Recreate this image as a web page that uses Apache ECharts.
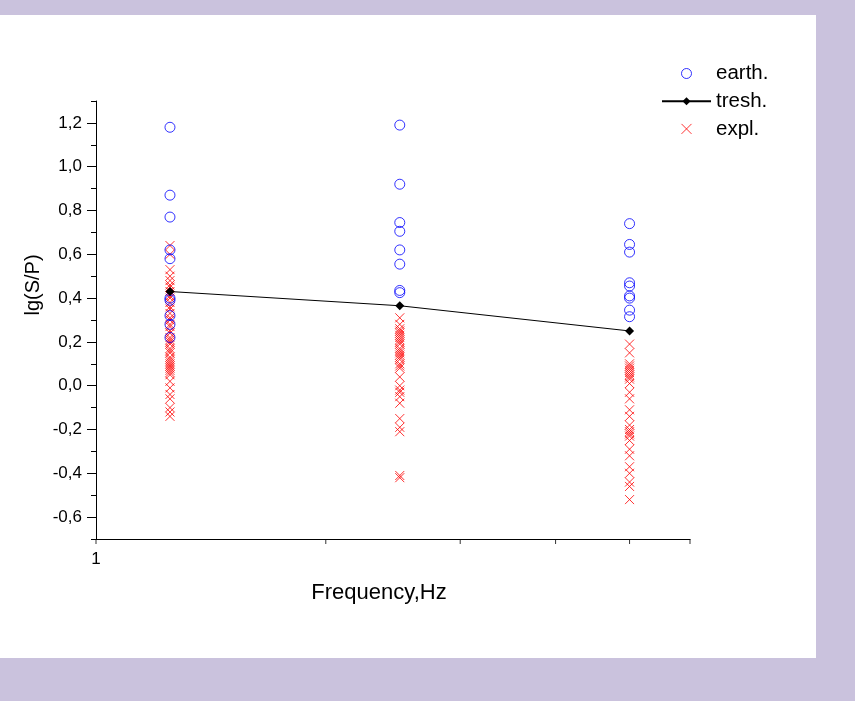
<!DOCTYPE html>
<html>
<head>
<meta charset="utf-8">
<title>lg(S/P) vs Frequency</title>
<script src="https://cdn.jsdelivr.net/npm/echarts@6/dist/echarts.min.js"></script>
<style>
  html, body { margin: 0; padding: 0; background: #cac2dd; }
  #chart { width: 855px; height: 701px; }
</style>
</head>
<body>
<div id="chart"></div>
<script>
// Frequencies (Hz) of the three measurement bands
const frequencies = [1.25, 2.5, 5];

// lg(S/P) values for earthquakes, per band
const earth125 = [1.18, 0.87, 0.77, 0.62, 0.58, 0.40, 0.39, 0.32, 0.28, 0.22];
const earth25  = [1.19, 0.92, 0.745, 0.705, 0.62, 0.555, 0.435, 0.425];
const earth5   = [0.74, 0.645, 0.61, 0.47, 0.455, 0.41, 0.40, 0.345, 0.315];

// lg(S/P) values for explosions, per band
const expl125 = [0.64, 0.60, 0.53, 0.50, 0.48, 0.46, 0.45, 0.43, 0.41, 0.40, 0.38, 0.36,
  0.35, 0.33, 0.31, 0.30, 0.28, 0.27, 0.25, 0.24, 0.22, 0.21, 0.20, 0.19, 0.17, 0.16,
  0.15, 0.13, 0.12, 0.11, 0.10, 0.09, 0.08, 0.07, 0.06, 0.05, 0.02, -0.01, -0.04,
  -0.06, -0.10, -0.12, -0.14];
const expl25 = [0.31, 0.28, 0.26, 0.25, 0.24, 0.23, 0.22, 0.21, 0.20, 0.19, 0.17, 0.16,
  0.15, 0.14, 0.13, 0.12, 0.10, 0.09, 0.08, 0.04, 0.00, -0.02, -0.03, -0.05, -0.08,
  -0.15, -0.19, -0.21, -0.41, -0.42];
const expl5 = [0.19, 0.15, 0.10, 0.09, 0.08, 0.07, 0.06, 0.05, 0.04, 0.03, 0.01, -0.03,
  -0.06, -0.11, -0.14, -0.18, -0.20, -0.21, -0.22, -0.23, -0.25, -0.29, -0.32, -0.37,
  -0.40, -0.44, -0.46, -0.52];

// Discrimination threshold per band
const threshold = [0.43, 0.365, 0.25];

// Frequency-axis tick positions (log scale)
const freqTicks = [1, 2, 3, 4, 5, 6];

const FONT = "'Liberation Sans', Arial, sans-serif";
const yMin = -0.7, yMax = 1.3;

function pairs(freq, values) {
  return values.map(v => [freq, v]);
}
const earthData = [].concat(
  pairs(frequencies[0], earth125),
  pairs(frequencies[1], earth25),
  pairs(frequencies[2], earth5)
);
const explData = [].concat(
  pairs(frequencies[0], expl125),
  pairs(frequencies[1], expl25),
  pairs(frequencies[2], expl5)
);
const threshData = frequencies.map((f, i) => [f, threshold[i]]);
const tickData = freqTicks.map(f => [f, yMin]);

// Grid geometry: main plot area, plus a second grid aligned so that
// its range -0.6..1.2 sits exactly over the same values of the first one
const gLeft = 96, gRight = 855 - 690, gTop = 101, gBottom = 701 - 539;
const gHeight = 701 - gTop - gBottom;
const pxPerUnit = gHeight / (yMax - yMin);

const chart = echarts.init(document.getElementById('chart'));
chart.setOption({
  backgroundColor: '#cac2dd',
  animation: false,
  graphic: [
    {
      type: 'rect', z: -10, silent: true,
      shape: { x: 0, y: 15, width: 816, height: 643 },
      style: { fill: '#ffffff' }
    },
    {
      type: 'text', z: 10, silent: true,
      x: 33, y: 285, rotation: Math.PI / 2,
      style: {
        text: 'lg(S/P)', fontFamily: FONT, fontSize: 20, fill: '#000',
        align: 'center', verticalAlign: 'middle'
      }
    },
    {
      type: 'text', z: 10, silent: true,
      x: 379, y: 593,
      style: {
        text: 'Frequency,Hz', fontFamily: FONT, fontSize: 22, fill: '#000',
        align: 'center', verticalAlign: 'middle'
      }
    }
  ],
  legend: {
    orient: 'vertical',
    left: 661,
    top: 63,
    padding: 0,
    itemWidth: 49,
    itemHeight: 10,
    itemGap: 6.7,
    textStyle: { fontFamily: FONT, fontSize: 20.5, color: '#000', lineHeight: 20 },
    data: [
      { name: 'earth.', itemStyle: { borderWidth: 1 } },
      { name: 'tresh.' },
      { name: 'expl.', itemStyle: { borderWidth: 1 } }
    ]
  },
  grid: [
    { left: gLeft, right: gRight, top: gTop, bottom: gBottom },
    {
      left: gLeft, right: gRight,
      top: gTop + 0.1 * pxPerUnit,
      bottom: gBottom + 0.1 * pxPerUnit
    }
  ],
  xAxis: [
    {
      type: 'log', logBase: 10, min: 1, max: 6, gridIndex: 0,
      axisLine: { onZero: false, lineStyle: { color: '#000', width: 1 } },
      axisTick: { show: false },
      splitLine: { show: false },
      axisLabel: {
        fontFamily: FONT, fontSize: 17, color: '#000', margin: 12,
        showMaxLabel: false,
        formatter: v => (Math.abs(v - 1) < 1e-6 ? '1' : '')
      }
    },
    {
      type: 'value', gridIndex: 1, min: 0, max: 1, show: false
    }
  ],
  yAxis: [
    {
      type: 'value', gridIndex: 0, min: yMin, max: yMax, interval: 0.1,
      axisLine: { show: true, onZero: false, lineStyle: { color: '#000', width: 1 } },
      axisTick: { show: true, length: 5, lineStyle: { color: '#000' } },
      axisLabel: { show: false },
      splitLine: { show: false }
    },
    {
      type: 'value', gridIndex: 1, min: -0.6, max: 1.2, interval: 0.2,
      axisLine: { show: false, onZero: false },
      axisTick: { show: true, length: 9, lineStyle: { color: '#000' } },
      splitLine: { show: false },
      axisLabel: {
        fontFamily: FONT, fontSize: 17, color: '#000', margin: 14,
        formatter: v => v.toFixed(1).replace('.', ',')
      }
    }
  ],
  series: [
    {
      name: 'earth.', type: 'scatter', xAxisIndex: 0, yAxisIndex: 0,
      symbol: 'circle', symbolSize: 10, z: 3,
      itemStyle: { color: 'rgba(0,0,0,0)', borderColor: '#0000ff', borderWidth: 1 },
      data: earthData
    },
    {
      name: 'tresh.', type: 'line', xAxisIndex: 0, yAxisIndex: 0,
      symbol: 'diamond', symbolSize: 9, z: 5,
      lineStyle: { color: '#000', width: 1 },
      itemStyle: { color: '#000' },
      data: threshData
    },
    {
      name: 'expl.', type: 'scatter', xAxisIndex: 0, yAxisIndex: 0,
      symbol: 'path://M0,0L10,10M10,0L0,10', symbolSize: 9, symbolKeepAspect: true, z: 2,
      itemStyle: { color: 'rgba(0,0,0,0)', borderColor: '#ff0000', borderWidth: 1 },
      data: explData
    },
    {
      name: 'freqTicks', type: 'scatter', xAxisIndex: 0, yAxisIndex: 0,
      symbol: 'rect', symbolSize: [1, 5], symbolOffset: [0, 2.5],
      clip: false, silent: true, z: 6,
      itemStyle: { color: '#000' },
      data: tickData
    }
  ]
});
</script>
</body>
</html>
